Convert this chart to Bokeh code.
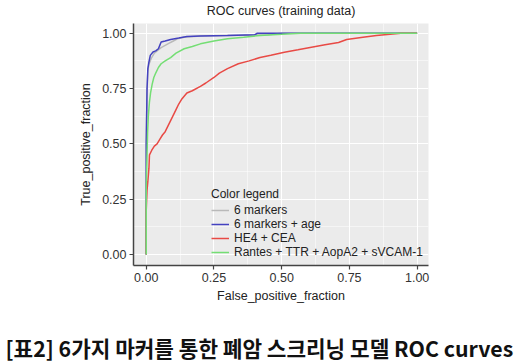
from bokeh.plotting import figure
from bokeh.models import Range1d, FixedTicker, Legend, LegendItem, Label
from bokeh.embed import file_html
from bokeh.resources import INLINE

title_text = "ROC curves (training data)"
caption_text = "[표2] 6가지 마커를 통한 폐암 스크리닝 모델 ROC curves"
x_label = "False_positive_fraction"
y_label = "True_positive_fraction"
tick_values = [0.0, 0.25, 0.5, 0.75, 1.0]
tick_labels = ["0.00", "0.25", "0.50", "0.75", "1.00"]
minor_values = [0.125, 0.375, 0.625, 0.875]

series_names = ["6 markers", "6 markers + age", "HE4 + CEA", "Rantes + TTR + AopA2 + sVCAM-1"]
series_colors = ["#B9B9B9", "#4442C0", "#E84A45", "#74DE74"]

fpr_6m = [0.0, 0.0, 0.003, 0.006, 0.01, 0.02, 0.03, 0.04, 0.055, 0.07, 0.085, 0.10, 0.115, 0.14, 0.20, 0.30, 0.45, 0.50, 1.0]
tpr_6m = [0.0, 0.50, 0.74, 0.83, 0.86, 0.89, 0.91, 0.92, 0.935, 0.945, 0.955, 0.965, 0.975, 0.982, 0.987, 0.99, 0.993, 1.0, 1.0]

fpr_6ma = [0.0, 0.0, 0.003, 0.006, 0.01, 0.015, 0.025, 0.035, 0.045, 0.05, 0.055, 0.07, 0.09, 0.12, 0.15, 0.20, 0.30, 0.40, 0.41, 1.0]
tpr_6ma = [0.0, 0.50, 0.75, 0.84, 0.87, 0.90, 0.915, 0.92, 0.93, 0.945, 0.96, 0.965, 0.972, 0.978, 0.985, 0.988, 0.99, 0.993, 1.0, 1.0]

fpr_he4 = [0.0, 0.0, 0.003, 0.006, 0.01, 0.012, 0.02, 0.03, 0.04, 0.05, 0.06, 0.07, 0.08, 0.09, 0.10, 0.11, 0.12, 0.13, 0.14, 0.15,
           0.17, 0.20, 0.22, 0.25, 0.27, 0.30, 0.34, 0.38, 0.42, 0.46, 0.51, 0.56, 0.61, 0.66, 0.71, 0.74, 0.80, 0.85, 0.90, 0.94, 1.0]
tpr_he4 = [0.0, 0.20, 0.29, 0.33, 0.39, 0.45, 0.47, 0.49, 0.50, 0.52, 0.54, 0.555, 0.58, 0.605, 0.63, 0.655, 0.68, 0.70, 0.715, 0.73,
           0.74, 0.76, 0.775, 0.80, 0.82, 0.84, 0.862, 0.875, 0.89, 0.90, 0.914, 0.925, 0.937, 0.948, 0.958, 0.972, 0.982, 0.99, 0.995, 1.0, 1.0]

fpr_rts = [0.0, 0.0, 0.003, 0.005, 0.008, 0.012, 0.016, 0.022, 0.028, 0.035, 0.045, 0.055, 0.07, 0.09, 0.11, 0.14, 0.17, 0.20,
           0.25, 0.30, 0.36, 0.42, 0.50, 0.57, 1.0]
tpr_rts = [0.0, 0.30, 0.45, 0.55, 0.63, 0.69, 0.73, 0.77, 0.80, 0.82, 0.845, 0.862, 0.875, 0.89, 0.91, 0.93, 0.94, 0.952,
           0.965, 0.975, 0.982, 0.99, 0.995, 1.0, 1.0]

FONT = "Liberation Sans"

p = figure(width=518, height=362, output_backend="svg", toolbar_location=None,
           x_range=Range1d(-0.047, 1.042), y_range=Range1d(-0.05, 1.044),
           min_border_left=133, min_border_right=90, min_border_top=23, min_border_bottom=97)
p.background_fill_color = "#EBEBEB"
p.outline_line_color = None
p.border_fill_color = "white"

ticker = FixedTicker(ticks=tick_values, minor_ticks=minor_values)
for ax in (p.xaxis, p.yaxis):
    ax.ticker = ticker
    ax.major_label_overrides = dict(zip(tick_values, tick_labels))
    ax.axis_line_color = "#444444"
    ax.axis_line_width = 1.5
    ax.major_tick_line_color = "#444444"
    ax.major_tick_line_width = 1.2
    ax.major_tick_in = 0
    ax.major_tick_out = 4
    ax.minor_tick_line_color = None
    ax.major_label_text_font = FONT
    ax.major_label_text_font_size = "12.5px"
    ax.major_label_text_color = "#333333"
    ax.major_label_standoff = 3
    ax.axis_label_text_font = FONT
    ax.axis_label_text_font_size = "12.5px"
    ax.axis_label_text_font_style = "normal"
    ax.axis_label_text_color = "#222222"
p.xaxis.axis_label = x_label
p.yaxis.axis_label = y_label
p.xaxis.axis_label_standoff = 4
p.yaxis.axis_label_standoff = 6

for g in (p.xgrid, p.ygrid):
    g.ticker = ticker
    g.grid_line_color = "white"
    g.grid_line_width = 1.1
    g.minor_grid_line_color = "white"
    g.minor_grid_line_width = 0.5

data = [(fpr_6m, tpr_6m), (fpr_6ma, tpr_6ma), (fpr_he4, tpr_he4), (fpr_rts, tpr_rts)]
items = []
for (xs, ys), name, col in zip(data, series_names, series_colors):
    r = p.line(xs, ys, line_color=col, line_width=1.5)
    items.append(LegendItem(label=name, renderers=[r]))

legend = Legend(items=items, location=(78, 6), title="Color legend",
                background_fill_alpha=0, border_line_color=None,
                label_text_font=FONT, label_text_font_size="12px", label_text_color="#222222",
                title_text_font=FONT, title_text_font_size="12px", title_text_font_style="normal",
                title_text_color="#222222", title_standoff=2,
                glyph_width=18, glyph_height=12, label_height=12, label_standoff=5,
                spacing=-1, padding=5, margin=0)
p.add_layout(legend, "center")

# title and caption as labels in the side panels (not clipped to the frame)
p.add_layout(Label(x=147.5, y=13, x_units="screen", y_units="screen", text=title_text,
                   text_align="center", text_baseline="middle", text_font=FONT,
                   text_font_size="12.5px", text_color="#222222"), "above")
p.add_layout(Label(x=-128, y=-11, x_units="screen", y_units="screen", text=caption_text,
                   text_align="left", text_baseline="middle", text_font="Noto Sans CJK KR",
                   text_font_style="bold", text_font_size="21.3px", text_color="#111111"), "below")

open("out.html", "w").write(file_html(p, INLINE))
